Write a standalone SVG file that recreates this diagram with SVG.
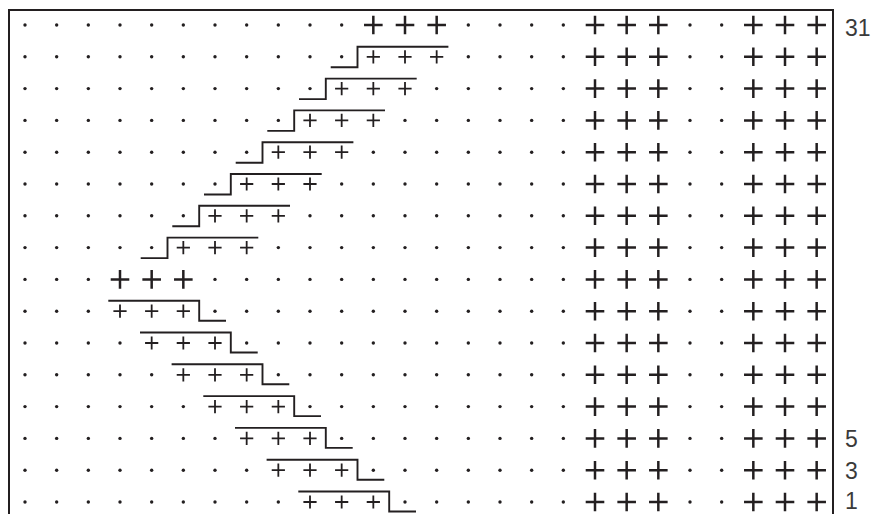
<svg xmlns="http://www.w3.org/2000/svg" width="881" height="514" viewBox="0 0 881 514">
<style>
.frame{fill:none;stroke:#231f20;stroke-width:2}
.step{fill:none;stroke:#231f20;stroke-width:1.9}
.big{stroke:#231f20;stroke-width:2.5;fill:none}
.small{stroke:#231f20;stroke-width:1.8;fill:none}
.dot{fill:#231f20}
.lbl{font-family:"Liberation Sans",Arial,sans-serif;font-size:23px;fill:#3a3a3a}
</style>
<defs>
<circle id="d" class="dot" r="1.7" cx="0" cy="0"/>
<path id="P" class="big" d="M-9.3,0H9.3M0,-9.3V9.3"/>
<path id="p" class="small" d="M-6.6,0H6.6M0,-6.6V6.6"/>
<g id="R">
<use href="#P" x="595"/><use href="#P" x="626.67"/><use href="#P" x="658.33"/>
<use href="#d" x="690"/><use href="#d" x="721.67"/>
<use href="#P" x="753.33"/><use href="#P" x="785"/><use href="#P" x="816.67"/>
</g>
</defs>
<rect width="881" height="514" fill="#fff"/>
<path id="frame" class="frame" d="M9,514V10H833V514"/>

<g id="row-0" transform="translate(0,25)">
<use href="#d" x="25"/><use href="#d" x="56.67"/><use href="#d" x="88.33"/><use href="#d" x="120"/><use href="#d" x="151.67"/><use href="#d" x="183.33"/><use href="#d" x="215"/><use href="#d" x="246.67"/><use href="#d" x="278.33"/><use href="#d" x="310"/><use href="#d" x="341.67"/>
<use href="#P" x="373.33"/><use href="#P" x="405"/><use href="#P" x="436.67"/>
<use href="#d" x="468.33"/><use href="#d" x="500"/><use href="#d" x="531.67"/><use href="#d" x="563.33"/>
<use href="#R"/>
</g>
<g id="row-1" transform="translate(0,56.8)">
<use href="#d" x="25"/><use href="#d" x="56.67"/><use href="#d" x="88.33"/><use href="#d" x="120"/><use href="#d" x="151.67"/><use href="#d" x="183.33"/><use href="#d" x="215"/><use href="#d" x="246.67"/><use href="#d" x="278.33"/><use href="#d" x="310"/><use href="#d" x="341.67"/>
<use href="#p" x="373.33"/><use href="#p" x="405"/><use href="#p" x="436.67"/>
<use href="#d" x="468.33"/><use href="#d" x="500"/><use href="#d" x="531.67"/><use href="#d" x="563.33"/>
<use href="#R"/>
</g>
<g id="row-2" transform="translate(0,88.6)">
<use href="#d" x="25"/><use href="#d" x="56.67"/><use href="#d" x="88.33"/><use href="#d" x="120"/><use href="#d" x="151.67"/><use href="#d" x="183.33"/><use href="#d" x="215"/><use href="#d" x="246.67"/><use href="#d" x="278.33"/><use href="#d" x="310"/>
<use href="#p" x="341.67"/><use href="#p" x="373.33"/><use href="#p" x="405"/>
<use href="#d" x="436.67"/><use href="#d" x="468.33"/><use href="#d" x="500"/><use href="#d" x="531.67"/><use href="#d" x="563.33"/>
<use href="#R"/>
</g>
<g id="row-3" transform="translate(0,120.4)">
<use href="#d" x="25"/><use href="#d" x="56.67"/><use href="#d" x="88.33"/><use href="#d" x="120"/><use href="#d" x="151.67"/><use href="#d" x="183.33"/><use href="#d" x="215"/><use href="#d" x="246.67"/><use href="#d" x="278.33"/>
<use href="#p" x="310"/><use href="#p" x="341.67"/><use href="#p" x="373.33"/>
<use href="#d" x="405"/><use href="#d" x="436.67"/><use href="#d" x="468.33"/><use href="#d" x="500"/><use href="#d" x="531.67"/><use href="#d" x="563.33"/>
<use href="#R"/>
</g>
<g id="row-4" transform="translate(0,152.2)">
<use href="#d" x="25"/><use href="#d" x="56.67"/><use href="#d" x="88.33"/><use href="#d" x="120"/><use href="#d" x="151.67"/><use href="#d" x="183.33"/><use href="#d" x="215"/><use href="#d" x="246.67"/>
<use href="#p" x="278.33"/><use href="#p" x="310"/><use href="#p" x="341.67"/>
<use href="#d" x="373.33"/><use href="#d" x="405"/><use href="#d" x="436.67"/><use href="#d" x="468.33"/><use href="#d" x="500"/><use href="#d" x="531.67"/><use href="#d" x="563.33"/>
<use href="#R"/>
</g>
<g id="row-5" transform="translate(0,184)">
<use href="#d" x="25"/><use href="#d" x="56.67"/><use href="#d" x="88.33"/><use href="#d" x="120"/><use href="#d" x="151.67"/><use href="#d" x="183.33"/><use href="#d" x="215"/>
<use href="#p" x="246.67"/><use href="#p" x="278.33"/><use href="#p" x="310"/>
<use href="#d" x="341.67"/><use href="#d" x="373.33"/><use href="#d" x="405"/><use href="#d" x="436.67"/><use href="#d" x="468.33"/><use href="#d" x="500"/><use href="#d" x="531.67"/><use href="#d" x="563.33"/>
<use href="#R"/>
</g>
<g id="row-6" transform="translate(0,215.8)">
<use href="#d" x="25"/><use href="#d" x="56.67"/><use href="#d" x="88.33"/><use href="#d" x="120"/><use href="#d" x="151.67"/><use href="#d" x="183.33"/>
<use href="#p" x="215"/><use href="#p" x="246.67"/><use href="#p" x="278.33"/>
<use href="#d" x="310"/><use href="#d" x="341.67"/><use href="#d" x="373.33"/><use href="#d" x="405"/><use href="#d" x="436.67"/><use href="#d" x="468.33"/><use href="#d" x="500"/><use href="#d" x="531.67"/><use href="#d" x="563.33"/>
<use href="#R"/>
</g>
<g id="row-7" transform="translate(0,247.6)">
<use href="#d" x="25"/><use href="#d" x="56.67"/><use href="#d" x="88.33"/><use href="#d" x="120"/><use href="#d" x="151.67"/>
<use href="#p" x="183.33"/><use href="#p" x="215"/><use href="#p" x="246.67"/>
<use href="#d" x="278.33"/><use href="#d" x="310"/><use href="#d" x="341.67"/><use href="#d" x="373.33"/><use href="#d" x="405"/><use href="#d" x="436.67"/><use href="#d" x="468.33"/><use href="#d" x="500"/><use href="#d" x="531.67"/><use href="#d" x="563.33"/>
<use href="#R"/>
</g>
<g id="row-8" transform="translate(0,279.4)">
<use href="#d" x="25"/><use href="#d" x="56.67"/><use href="#d" x="88.33"/>
<use href="#P" x="120"/><use href="#P" x="151.67"/><use href="#P" x="183.33"/>
<use href="#d" x="215"/><use href="#d" x="246.67"/><use href="#d" x="278.33"/><use href="#d" x="310"/><use href="#d" x="341.67"/><use href="#d" x="373.33"/><use href="#d" x="405"/><use href="#d" x="436.67"/><use href="#d" x="468.33"/><use href="#d" x="500"/><use href="#d" x="531.67"/><use href="#d" x="563.33"/>
<use href="#R"/>
</g>
<g id="row-9" transform="translate(0,311.2)">
<use href="#d" x="25"/><use href="#d" x="56.67"/><use href="#d" x="88.33"/>
<use href="#p" x="120"/><use href="#p" x="151.67"/><use href="#p" x="183.33"/>
<use href="#d" x="215"/><use href="#d" x="246.67"/><use href="#d" x="278.33"/><use href="#d" x="310"/><use href="#d" x="341.67"/><use href="#d" x="373.33"/><use href="#d" x="405"/><use href="#d" x="436.67"/><use href="#d" x="468.33"/><use href="#d" x="500"/><use href="#d" x="531.67"/><use href="#d" x="563.33"/>
<use href="#R"/>
</g>
<g id="row-10" transform="translate(0,343)">
<use href="#d" x="25"/><use href="#d" x="56.67"/><use href="#d" x="88.33"/><use href="#d" x="120"/>
<use href="#p" x="151.67"/><use href="#p" x="183.33"/><use href="#p" x="215"/>
<use href="#d" x="246.67"/><use href="#d" x="278.33"/><use href="#d" x="310"/><use href="#d" x="341.67"/><use href="#d" x="373.33"/><use href="#d" x="405"/><use href="#d" x="436.67"/><use href="#d" x="468.33"/><use href="#d" x="500"/><use href="#d" x="531.67"/><use href="#d" x="563.33"/>
<use href="#R"/>
</g>
<g id="row-11" transform="translate(0,374.8)">
<use href="#d" x="25"/><use href="#d" x="56.67"/><use href="#d" x="88.33"/><use href="#d" x="120"/><use href="#d" x="151.67"/>
<use href="#p" x="183.33"/><use href="#p" x="215"/><use href="#p" x="246.67"/>
<use href="#d" x="278.33"/><use href="#d" x="310"/><use href="#d" x="341.67"/><use href="#d" x="373.33"/><use href="#d" x="405"/><use href="#d" x="436.67"/><use href="#d" x="468.33"/><use href="#d" x="500"/><use href="#d" x="531.67"/><use href="#d" x="563.33"/>
<use href="#R"/>
</g>
<g id="row-12" transform="translate(0,406.6)">
<use href="#d" x="25"/><use href="#d" x="56.67"/><use href="#d" x="88.33"/><use href="#d" x="120"/><use href="#d" x="151.67"/><use href="#d" x="183.33"/>
<use href="#p" x="215"/><use href="#p" x="246.67"/><use href="#p" x="278.33"/>
<use href="#d" x="310"/><use href="#d" x="341.67"/><use href="#d" x="373.33"/><use href="#d" x="405"/><use href="#d" x="436.67"/><use href="#d" x="468.33"/><use href="#d" x="500"/><use href="#d" x="531.67"/><use href="#d" x="563.33"/>
<use href="#R"/>
</g>
<g id="row-13" transform="translate(0,438.4)">
<use href="#d" x="25"/><use href="#d" x="56.67"/><use href="#d" x="88.33"/><use href="#d" x="120"/><use href="#d" x="151.67"/><use href="#d" x="183.33"/><use href="#d" x="215"/>
<use href="#p" x="246.67"/><use href="#p" x="278.33"/><use href="#p" x="310"/>
<use href="#d" x="341.67"/><use href="#d" x="373.33"/><use href="#d" x="405"/><use href="#d" x="436.67"/><use href="#d" x="468.33"/><use href="#d" x="500"/><use href="#d" x="531.67"/><use href="#d" x="563.33"/>
<use href="#R"/>
</g>
<g id="row-14" transform="translate(0,470.2)">
<use href="#d" x="25"/><use href="#d" x="56.67"/><use href="#d" x="88.33"/><use href="#d" x="120"/><use href="#d" x="151.67"/><use href="#d" x="183.33"/><use href="#d" x="215"/><use href="#d" x="246.67"/>
<use href="#p" x="278.33"/><use href="#p" x="310"/><use href="#p" x="341.67"/>
<use href="#d" x="373.33"/><use href="#d" x="405"/><use href="#d" x="436.67"/><use href="#d" x="468.33"/><use href="#d" x="500"/><use href="#d" x="531.67"/><use href="#d" x="563.33"/>
<use href="#R"/>
</g>
<g id="row-15" transform="translate(0,502)">
<use href="#d" x="25"/><use href="#d" x="56.67"/><use href="#d" x="88.33"/><use href="#d" x="120"/><use href="#d" x="151.67"/><use href="#d" x="183.33"/><use href="#d" x="215"/><use href="#d" x="246.67"/><use href="#d" x="278.33"/>
<use href="#p" x="310"/><use href="#p" x="341.67"/><use href="#p" x="373.33"/>
<use href="#d" x="405"/><use href="#d" x="436.67"/><use href="#d" x="468.33"/><use href="#d" x="500"/><use href="#d" x="531.67"/><use href="#d" x="563.33"/>
<use href="#R"/>
</g>

<g id="connectors">
<path class="step" d="M330.7,67.3H357.5V46.8H448.4"/>
<path class="step" d="M299,99.1H325.8V78.6H416.7"/>
<path class="step" d="M267.3,130.9H294.2V110.4H385"/>
<path class="step" d="M235.7,162.7H262.5V142.2H353.4"/>
<path class="step" d="M204,194.5H230.8V174H321.7"/>
<path class="step" d="M172.3,226.3H199.2V205.8H290"/>
<path class="step" d="M140.7,258.1H167.5V237.6H258.3"/>
<path class="step" d="M108.3,300.7H199.2V320.7H226"/>
<path class="step" d="M140,332.5H230.8V352.5H257.7"/>
<path class="step" d="M171.6,364.3H262.5V384.3H289.3"/>
<path class="step" d="M203.3,396.1H294.2V416.1H321"/>
<path class="step" d="M235,427.9H325.8V447.9H352.7"/>
<path class="step" d="M266.6,459.7H357.5V479.7H384.3"/>
<path class="step" d="M298.3,491.5H389.2V511.5H416"/>
</g>

<g id="labels">
<text class="lbl" x="845" y="36">31</text>
<text class="lbl" x="845" y="447">5</text>
<text class="lbl" x="845" y="478.5">3</text>
<text class="lbl" x="845" y="508.5">1</text>
</g>
</svg>
